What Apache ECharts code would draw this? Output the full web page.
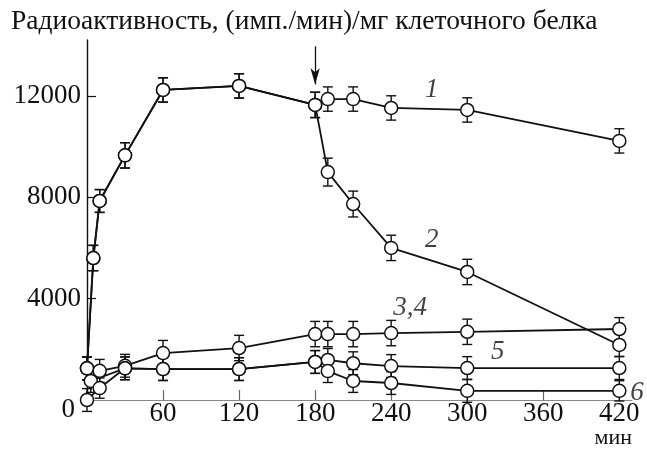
<!DOCTYPE html>
<html>
<head>
<meta charset="utf-8">
<script src="https://cdn.jsdelivr.net/npm/echarts@6/dist/echarts.min.js"></script>
<style>
  html, body { margin: 0; padding: 0; background: #fff; }
  #chart { width: 647px; height: 455px; }
</style>
</head>
<body>
<div id="chart"></div>
<script>
// Time points (min) and radioactivity values, (cpm)/mg cell protein
const times1 = [0, 5, 10, 30, 60, 120, 180, 190, 210, 240, 300, 420];
const values1 = [1250, 5600, 7850, 9650, 12230, 12390, 11640, 11870, 11870, 11520, 11440, 10220];
const errors1 = [450, 500, 450, 500, 480, 480, 500, 480, 480, 480, 480, 480];

const times2 = [0, 5, 10, 30, 60, 120, 180, 190, 210, 240, 300, 420];
const values2 = [1250, 5600, 7850, 9650, 12230, 12390, 11640, 8990, 7730, 6000, 5050, 2170];
const errors2 = [450, 500, 450, 500, 480, 480, 500, 550, 510, 500, 500, 450];

const times34 = [0, 10, 30, 60, 120, 180, 190, 210, 240, 300, 420];
const values34 = [1250, 1150, 1350, 1850, 2050, 2600, 2600, 2600, 2640, 2690, 2800];
const errors34 = [450, 450, 450, 500, 500, 500, 500, 500, 500, 500, 450];

const times5 = [3, 30, 60, 120, 180, 190, 210, 240, 300, 420];
const values5 = [750, 1250, 1220, 1220, 1500, 1580, 1450, 1340, 1260, 1260];
const errors5 = [450, 450, 450, 450, 450, 450, 450, 450, 450, 450];

const times6 = [0, 10, 30, 60, 120, 180, 190, 210, 240, 300, 420];
const values6 = [0, 470, 1250, 1220, 1220, 1500, 1140, 750, 670, 360, 360];
const errors6 = [450, 400, 450, 450, 450, 450, 450, 450, 450, 450, 400];

// Curve numbers: [time, value, text]
const curveLabels = [
  [272, 12230, '1'],
  [272, 6310, '2'],
  [255, 3630, '3,4'],
  [324, 1890, '5'],
  [434, 280, '6']
];

// Arrow marking the change of medium: [time, from value, to value]
const arrowMark = [180, 13950, 12450];

const xTicks = [0, 60, 120, 180, 240, 300, 360, 420];
const yTicks = [0, 4000, 8000, 12000];

const titleText = 'Радиоактивность, (имп./мин)/мг клеточного белка';
const xUnit = 'мин';

const SERIF = '"Liberation Serif", "DejaVu Serif", serif';

function pairs(ts, vs) { return ts.map((t, i) => [t, vs[i]]); }
function bars(ts, vs, es) { return ts.map((t, i) => [t, vs[i] - es[i], vs[i] + es[i]]); }

function errorSeries(ts, vs, es) {
  return {
    type: 'custom',
    data: bars(ts, vs, es),
    z: 2,
    silent: true,
    clip: false,
    renderItem: function (params, api) {
      const t = api.value(0);
      const lo = api.coord([t, api.value(1)]);
      const hi = api.coord([t, api.value(2)]);
      const w = 5;
      const style = { stroke: '#111', lineWidth: 1.4 };
      return {
        type: 'group',
        children: [
          { type: 'line', shape: { x1: lo[0], y1: lo[1], x2: hi[0], y2: hi[1] }, style: style },
          { type: 'line', shape: { x1: lo[0] - w, y1: lo[1], x2: lo[0] + w, y2: lo[1] }, style: style },
          { type: 'line', shape: { x1: hi[0] - w, y1: hi[1], x2: hi[0] + w, y2: hi[1] }, style: style }
        ]
      };
    }
  };
}

function curveSeries(ts, vs) {
  return {
    type: 'line',
    data: pairs(ts, vs),
    z: 3,
    symbol: 'circle',
    symbolSize: 13,
    showAllSymbol: true,
    clip: false,
    lineStyle: { color: '#111', width: 1.8 },
    itemStyle: { color: '#fff', borderColor: '#111', borderWidth: 1.5 },
    emphasis: { disabled: true },
    animation: false
  };
}

const chart = echarts.init(document.getElementById('chart'), null, { renderer: 'canvas' });

chart.setOption({
  animation: false,
  backgroundColor: '#fff',
  title: {
    text: titleText,
    left: 6,
    top: 3,
    textStyle: { fontFamily: SERIF, fontSize: 27.5, fontWeight: 'normal', color: '#111' }
  },
  graphic: [{
    type: 'text',
    right: 15,
    top: 427,
    style: { text: xUnit, fontFamily: SERIF, fontSize: 22, fill: '#111' }
  }],
  grid: { left: 87, top: 40, width: 545, height: 360, containLabel: false, outerBoundsMode: 'none' },
  xAxis: {
    type: 'value',
    min: 0,
    max: 430,
    interval: 60,
    axisLine: { lineStyle: { color: '#888', width: 1.2 } },
    axisTick: {
      inside: true, length: 10,
      lineStyle: { color: '#666', width: 1.2 },
      customValues: xTicks.filter(v => v > 0)
    },
    axisLabel: {
      fontFamily: SERIF, fontSize: 27, color: '#111', margin: 0,
      customValues: xTicks.filter(v => v > 0)
    },
    splitLine: { show: false }
  },
  yAxis: {
    type: 'value',
    min: 0,
    max: 14200,
    interval: 4000,
    axisLine: { show: true, lineStyle: { color: '#111', width: 1.4 } },
    axisTick: { show: true, inside: true, length: 9, lineStyle: { color: '#111', width: 1.2 },
      customValues: yTicks.filter(v => v > 0) },
    axisLabel: {
      fontFamily: SERIF, fontSize: 27, color: '#111', margin: 6,
      customValues: yTicks,
      formatter: function (v) { return v === 0 ? '{z|0}' : String(v); },
      rich: { z: { fontFamily: SERIF, fontSize: 27, color: '#111', padding: [20, 6, 0, 0] } }
    },
    splitLine: { show: false }
  },
  series: [
    errorSeries(times1, values1, errors1),
    errorSeries(times2, values2, errors2),
    errorSeries(times34, values34, errors34),
    errorSeries(times5, values5, errors5),
    errorSeries(times6, values6, errors6),
    curveSeries(times1, values1),
    curveSeries(times2, values2),
    curveSeries(times34, values34),
    curveSeries(times5, values5),
    curveSeries(times6, values6),
    {
      type: 'scatter',
      data: curveLabels,
      symbolSize: 0,
      clip: false,
      silent: true,
      z: 4,
      label: {
        show: true,
        position: 'inside',
        formatter: p => p.data[2],
        fontFamily: SERIF, fontStyle: 'italic', fontSize: 27, color: '#111'
      }
    },
    {
      type: 'line',
      data: [],
      silent: true,
      markLine: {
        silent: true,
        symbol: ['none', 'arrow'],
        symbolSize: [7, 16],
        label: { show: false },
        lineStyle: { color: '#111', width: 1.3, type: 'solid' },
        data: [[{ coord: [arrowMark[0], arrowMark[1]] }, { coord: [arrowMark[0], arrowMark[2]] }]]
      }
    }
  ]
});
</script>
</body>
</html>
